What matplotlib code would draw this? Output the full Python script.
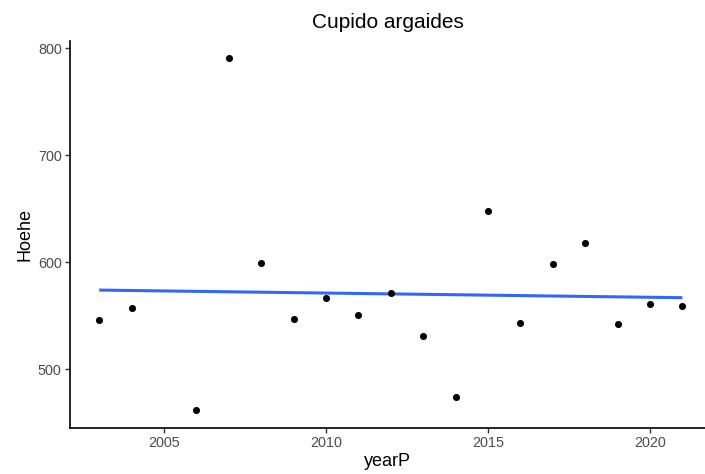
import numpy as np
import matplotlib
matplotlib.use("Agg")
import matplotlib.pyplot as plt

plt.rcParams['font.family'] = ['Liberation Sans', 'DejaVu Sans']

years = [2003, 2004, 2006, 2007, 2008, 2009, 2010, 2011, 2012, 2013,
         2014, 2015, 2016, 2017, 2018, 2019, 2020, 2021]
hoehe = [546, 557, 462, 791, 599, 547, 567, 551, 571, 531,
         474, 648, 543, 598, 618, 542, 561, 559]
x_ticks = [2005, 2010, 2015, 2020]
y_ticks = [500, 600, 700, 800]
title = "Cupido argaides"
x_label = "yearP"
y_label = "Hoehe"

W, H = 705, 474
fig = plt.figure(figsize=(W / 100, H / 100), dpi=100)
left, right, top, bottom = 70, 705, 40.7, 427.7
ax = fig.add_axes([left / W, 1 - bottom / H, (right - left) / W, (bottom - top) / H])

x = np.array(years, dtype=float)
y = np.array(hoehe, dtype=float)
slope, intercept = np.polyfit(x, y, 1)
xs = np.linspace(x.min(), x.max(), 80)
ax.plot(xs, slope * xs + intercept, color="#3366FF", lw=2.2, zorder=2,
        solid_capstyle="butt")
ax.scatter(x, y, s=26, color="black", zorder=3, linewidths=0)

ax.set_xlim(2002.10, 2021.70)
ax.set_ylim(445.3, 807.2)
ax.set_xticks(x_ticks)
ax.set_yticks(y_ticks)
ax.tick_params(axis="both", length=3.5, width=1.0, color="#333333",
               labelcolor="#4D4D4D", labelsize=10.4, pad=2.5)
for s in ["top", "right"]:
    ax.spines[s].set_visible(False)
for s in ["left", "bottom"]:
    ax.spines[s].set_linewidth(1.2)
    ax.spines[s].set_color("black")

ax.set_xlabel(x_label, fontsize=13, color="black", labelpad=2)
ax.set_ylabel(y_label, fontsize=13, color="black", labelpad=3)
ax.set_title(title, fontsize=15, color="black", pad=9)

fig.savefig("out.png", dpi=100)
